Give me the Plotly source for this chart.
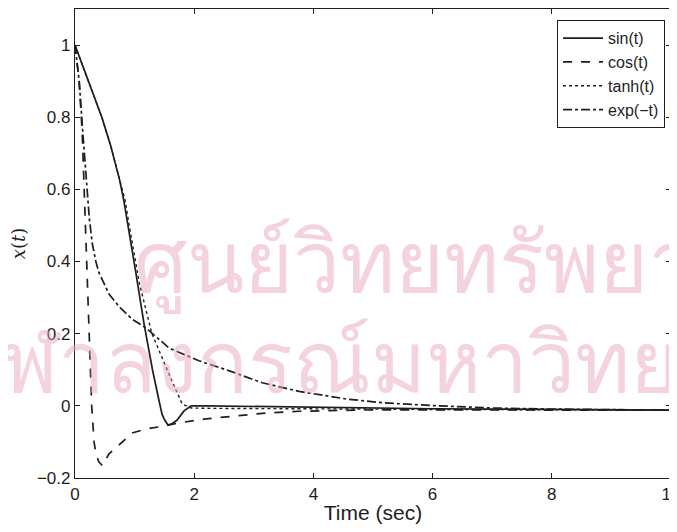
import plotly.graph_objects as go

# ---- data ----
t_sin = [0, 0.2, 0.45, 0.6, 0.69, 0.75, 0.82, 0.88, 0.94, 1.02, 1.16, 1.3, 1.41, 1.46, 1.5, 1.56, 1.62, 1.71, 1.83, 1.95, 2.2, 3, 4, 5, 6, 7, 8, 9, 10]
x_sin = [1, 0.91, 0.8, 0.72, 0.665, 0.625, 0.568, 0.51, 0.45, 0.37, 0.226, 0.1, 0.014, -0.023, -0.038, -0.053, -0.05, -0.04, -0.014, 0.0, 0.0, -0.002, -0.004, -0.006, -0.008, -0.009, -0.01, -0.011, -0.012]

t_cos = [0, 0.07, 0.12, 0.15, 0.18, 0.19, 0.23, 0.28, 0.32, 0.35, 0.4, 0.46, 0.57, 0.69, 0.96, 1.2, 1.53, 1.75, 2.2, 2.7, 3.2, 3.76, 4.5, 5, 6, 7, 8, 9, 10]
x_cos = [1, 0.9, 0.76, 0.62, 0.49, 0.4, 0.2, 0.0, -0.1, -0.133, -0.155, -0.166, -0.133, -0.116, -0.075, -0.064, -0.055, -0.047, -0.036, -0.028, -0.02, -0.015, -0.012, -0.011, -0.011, -0.012, -0.012, -0.012, -0.012]

t_tanh = [0, 0.2, 0.45, 0.6, 0.69, 0.84, 0.91, 1.08, 1.29, 1.53, 1.65, 1.8, 1.95, 2.3, 3, 4, 5, 6, 7, 8, 9, 10]
x_tanh = [1, 0.91, 0.8, 0.72, 0.665, 0.57, 0.5, 0.34, 0.2, 0.105, 0.06, 0.005, -0.006, -0.007, -0.008, -0.008, -0.009, -0.01, -0.01, -0.011, -0.011, -0.012]

t_exp = [0, 0.07, 0.13, 0.2, 0.24, 0.29, 0.35, 0.4, 0.57, 0.74, 0.96, 1.19, 1.58, 2.08, 2.59, 3.14, 3.76, 4.55, 5.2, 6.1, 7, 8, 9, 10]
x_exp = [1, 0.9, 0.76, 0.62, 0.52, 0.45, 0.40, 0.37, 0.31, 0.275, 0.24, 0.216, 0.16, 0.125, 0.097, 0.064, 0.04, 0.019, 0.008, 0.0, -0.006, -0.009, -0.011, -0.012]

series_names = ["sin(t)", "cos(t)", "tanh(t)", "exp(\u2212t)"]
x_ticks = [0, 2, 4, 6, 8, 10]
x_ticklabels = ["0", "2", "4", "6", "8", "10"]
y_ticks = [-0.2, 0, 0.2, 0.4, 0.6, 0.8, 1]
y_ticklabels = ["\u22120.2", "0", "0.2", "0.4", "0.6", "0.8", "1"]
watermark = ["ศูนย์วิทยทรัพยากร", "จุฬาลงกรณ์มหาวิทยาลัย"]

ink = "#1e1e1e"
pink = "rgba(235,165,192,0.5)"
fig = go.Figure()
styles = [("solid", 1.7), ("dash", 1.7), ("dot", 1.4), ("dashdot", 1.7)]
data = [(t_sin, x_sin), (t_cos, x_cos), (t_tanh, x_tanh), (t_exp, x_exp)]
for (tt, xx), name, (dash, w) in zip(data, series_names, styles):
    fig.add_trace(go.Scatter(x=tt, y=xx, mode="lines", name=name,
                             line=dict(color=ink, width=w, dash=dash)))

axis_common = dict(showgrid=False, zeroline=False, showline=True, linecolor=ink,
                   linewidth=1.2, mirror="ticks", ticks="inside", ticklen=5,
                   tickcolor=ink, ticklabeloverflow="allow",
                   tickfont=dict(family="Liberation Sans, Arial", size=17, color=ink))

fig.update_layout(
    width=677, height=532,
    margin=dict(l=67, r=14, t=1, b=62),
    paper_bgcolor="white", plot_bgcolor="rgba(0,0,0,0)",
    font=dict(family="Liberation Sans, Arial", color=ink),
    xaxis=dict(range=[0, 10], tickvals=x_ticks, ticktext=x_ticklabels,
               title=dict(text="Time (sec)", font=dict(size=21), standoff=2), **axis_common),
    yaxis=dict(range=[-0.2, 1.1], tickvals=y_ticks, ticktext=y_ticklabels,
               title=dict(text="<i>x</i>(<i>t</i>)", font=dict(family="DejaVu Serif", size=18), standoff=10),
               **axis_common),
    legend=dict(x=0.99, y=0.976, xanchor="right", yanchor="top",
                bgcolor="white", bordercolor=ink, borderwidth=1,
                font=dict(size=16, color=ink), tracegroupgap=0, itemwidth=40),
    showlegend=True,
)

fig.add_annotation(text=watermark[0], xref="paper", yref="paper", x=0.095, y=0.455,
                   xanchor="left", yanchor="middle", showarrow=False,
                   font=dict(size=84, color=pink))
fig.add_annotation(text=watermark[1], xref="paper", yref="paper", x=-0.21, y=0.24,
                   xanchor="left", yanchor="middle", showarrow=False,
                   font=dict(size=84, color=pink))

fig.write_html("out.html")
